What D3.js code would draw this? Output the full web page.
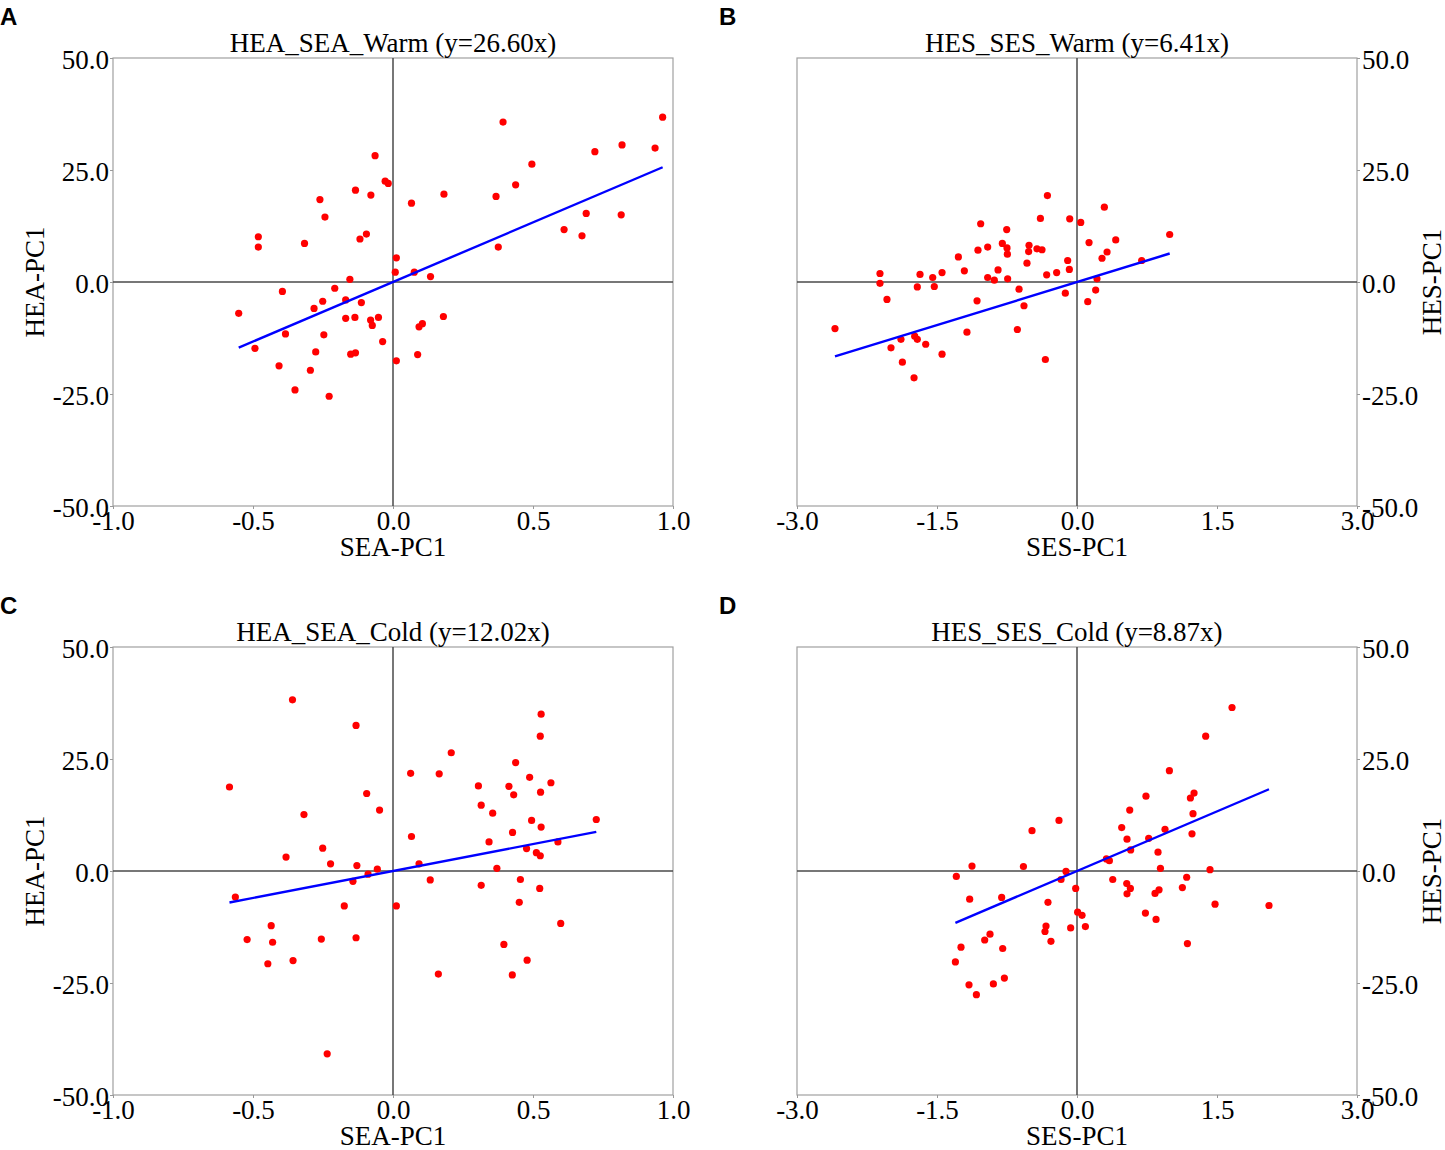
<!DOCTYPE html>
<html>
<head>
<meta charset="utf-8">
<script src="https://cdn.jsdelivr.net/npm/d3@7"></script>
<style>
	body { margin: 0; background: #fff; }
	.tick text { font-family: "Liberation Serif", "Times New Roman", serif; font-size: 27px; fill: #000; }
	.tick line { stroke: #999; }
</style>
</head>
<body>
<div id="chart-area"></div>
<script>
// Panel titles, slopes and axis labels
var titles = ["HEA_SEA_Warm (y=26.60x)", "HES_SES_Warm (y=6.41x)", "HEA_SEA_Cold (y=12.02x)", "HES_SES_Cold (y=8.87x)"];
var slopes = [26.60, 6.41, 12.02, 8.87];
var letters = ["A", "B", "C", "D"];
var xLabels = ["SEA-PC1", "SES-PC1", "SEA-PC1", "SES-PC1"];
var yLabels = ["HEA-PC1", "HES-PC1", "HEA-PC1", "HES-PC1"];

// Ticks
var seaTicks = [-1.0, -0.5, 0.0, 0.5, 1.0];
var sesTicks = [-3.0, -1.5, 0.0, 1.5, 3.0];
var pcTicks = [-50.0, -25.0, 0.0, 25.0, 50.0];

// A: HEA_SEA_Warm
var warmSeaX = [-0.064, -0.028, -0.017, -0.134, -0.079, -0.261, -0.243, -0.481, -0.481, -0.316,
	-0.095, -0.118, 0.012, 0.008, -0.154, -0.395, -0.208, -0.251, -0.282, -0.169,
	-0.113, -0.551, -0.169, -0.136, -0.080, -0.052, -0.074, -0.384, -0.247, -0.037,
	-0.493, -0.276, -0.151, -0.134, 0.012, -0.407, -0.295, -0.350, -0.228, 0.393,
	0.963, 0.721, 0.818, 0.936, 0.496, 0.438, 0.368, 0.066, 0.182, 0.690,
	0.815, 0.611, 0.675, 0.376, 0.076, 0.134, 0.180, 0.093, 0.105, 0.088];
var warmHeaY = [28.2, 22.5, 22.0, 20.5, 19.4, 18.4, 14.5, 10.1, 7.8, 8.6,
	10.7, 9.6, 5.4, 2.2, 0.6, -2.1, -1.4, -4.3, -5.9, -4.0,
	-4.6, -7.0, -8.1, -7.9, -8.5, -7.9, -9.7, -11.6, -11.8, -13.3,
	-14.8, -15.6, -16.1, -15.8, -17.6, -18.7, -19.7, -24.1, -25.5, 35.7,
	36.8, 29.1, 30.6, 29.9, 26.3, 21.7, 19.1, 17.6, 19.6, 15.3,
	15.0, 11.7, 10.3, 7.8, 2.2, 1.2, -7.7, -10.0, -9.3, -16.2];

// B: HES_SES_Warm
var warmSesX = [-0.317, -0.392, -0.078, 0.040, -1.032, -0.753, -0.800, -0.750, -0.746, -0.957,
	-1.061, -0.514, -0.518, -0.429, -0.375, 0.129, -1.271, -0.536, -0.100, -0.082,
	-0.846, -1.207, -1.446, -1.682, -2.111, -2.111, -1.546, -0.957, -0.886, -0.743,
	-0.325, -0.218, -1.711, -1.529, -0.621, -2.036, -1.071, -0.568, -0.125, 0.115,
	-2.593, -1.179, -0.639, -1.739, -1.711, -1.886, -1.621, -1.993, -1.446, -1.871,
	-0.339, -1.746, 0.293, 0.415, 0.322, 0.268, 0.993, 0.693, 0.214, 0.200];
var warmHesY = [19.3, 14.2, 14.1, 13.3, 13.0, 11.7, 8.6, 7.6, 6.2, 7.8,
	7.1, 8.2, 6.8, 7.4, 7.2, 8.8, 5.6, 4.2, 4.8, 2.8,
	2.7, 2.5, 2.1, 1.7, 1.9, -0.3, 1.0, 1.0, 0.4, 0.7,
	1.6, 2.1, -1.1, -1.0, -1.6, -3.9, -4.2, -5.3, -2.5, -4.4,
	-10.4, -11.2, -10.6, -12.1, -12.8, -12.8, -13.9, -14.7, -16.1, -17.9,
	-17.3, -21.4, 16.7, 9.4, 6.7, 5.3, 10.6, 4.8, 0.7, -1.8];

// C: HEA_SEA_Cold
var coldSeaX = [-0.359, -0.132, -0.584, 0.063, 0.165, -0.094, -0.048, -0.318, 0.066, -0.251,
	-0.382, -0.223, -0.129, -0.056, -0.089, 0.093, -0.143, 0.133, -0.563, -0.174,
	0.012, -0.435, -0.521, -0.430, -0.256, -0.132, -0.447, -0.357, 0.162, -0.235,
	0.529, 0.526, 0.208, 0.438, 0.488, 0.564, 0.305, 0.414, 0.431, 0.527,
	0.315, 0.356, 0.495, 0.726, 0.529, 0.427, 0.343, 0.589, 0.477, 0.512,
	0.526, 0.371, 0.315, 0.455, 0.524, 0.451, 0.599, 0.396, 0.479, 0.426];
var coldHeaY = [38.2, 32.5, 18.75, 21.8, 21.7, 17.3, 13.6, 12.6, 7.7, 5.1,
	3.1, 1.6, 1.2, 0.4, -0.7, 1.6, -2.3, -2.0, -5.8, -7.8,
	-7.8, -12.2, -15.3, -15.9, -15.2, -14.9, -20.7, -20.0, -23.0, -40.8,
	35.0, 30.1, 26.4, 24.2, 20.9, 19.7, 19.0, 18.9, 17.0, 17.6,
	14.7, 12.9, 11.3, 11.5, 9.8, 8.6, 6.5, 6.5, 5.0, 4.1,
	3.4, 0.6, -3.2, -1.9, -3.9, -7.0, -11.7, -16.4, -19.9, -23.2];

// D: HES_SES_Cold
var coldSesX = [-0.193, -0.482, -1.125, -0.574, -1.293, -0.118, -0.171, -0.014, -1.150, -0.807,
	-0.311, 0.007, 0.054, -0.332, -0.343, -0.068, 0.090, -0.932, -0.989, -0.279,
	-1.243, -0.796, -1.303, -0.778, -0.896, -1.157, -1.078, 0.315, 0.347, 0.383,
	1.661, 1.379, 0.990, 0.739, 1.254, 1.215, 0.565, 1.243, 0.479, 0.943,
	1.232, 0.536, 0.768, 0.575, 0.868, 0.894, 1.425, 1.175, 0.533, 0.572,
	0.536, 0.836, 0.879, 1.129, 1.479, 2.057, 0.733, 0.847, 1.183];
var coldHesY = [11.3, 9.0, 1.1, 1.0, -1.2, -0.1, -1.9, -3.9, -6.3, -5.9,
	-7.0, -9.2, -9.9, -12.3, -13.5, -12.7, -12.4, -14.1, -15.4, -15.7,
	-17.0, -17.3, -20.3, -23.9, -25.2, -25.4, -27.6, 2.7, 2.3, -1.9,
	36.5, 30.1, 22.4, 16.7, 17.4, 16.3, 13.6, 12.8, 9.7, 9.3,
	8.3, 7.1, 7.3, 4.7, 4.2, 0.6, 0.3, -1.4, -2.8, -3.9,
	-5.1, -5.0, -4.2, -3.7, -7.4, -7.7, -9.4, -10.8, -16.2];

var xsList = [warmSeaX, warmSesX, coldSeaX, coldSesX];
var ysList = [warmHeaY, warmHesY, coldHeaY, coldHesY];
var xTickList = [seaTicks, sesTicks, seaTicks, sesTicks];

// layout
var width = 1445, height = 1150;
var plotW = 560, plotH = 448;
var lefts = [113, 797, 113, 797];
var tops = [58, 58, 647, 647];
var serif = '"Liberation Serif", "Times New Roman", serif';

// plain hyphen minus, like the original figure
var fmt = function(d) { return d.toFixed(1); };

var svg = d3.select("#chart-area").append("svg")
	.attr("width", width)
	.attr("height", height);

var drawPanel = function(i) {
	var xs = xsList[i], ys = ysList[i];
	var rightAxis = (i % 2 == 1);
	var xt = xTickList[i];

	var g = svg.append("g")
		.attr("transform", "translate(" + lefts[i] + "," + tops[i] + ")");

	var xScale = d3.scaleLinear()
		.domain([xt[0], xt[xt.length - 1]])
		.range([0, plotW]);
	var yScale = d3.scaleLinear()
		.domain([-50, 50])
		.range([plotH, 0]);

	// frame
	g.append("rect")
		.attr("x", 0).attr("y", 0)
		.attr("width", plotW).attr("height", plotH)
		.attr("fill", "none")
		.attr("stroke", "#a0a0a0")
		.attr("stroke-width", 1.2);

	// x axis
	var xAxis = d3.axisBottom(xScale)
		.tickValues(xt)
		.tickSize(3)
		.tickFormat(fmt);
	var gx = g.append("g")
		.attr("transform", "translate(0," + plotH + ")")
		.call(xAxis);
	gx.select(".domain").remove();
	gx.selectAll(".tick text").attr("y", 5).attr("dy", "0.72em");

	// y axis
	var yAxis = (rightAxis ? d3.axisRight(yScale) : d3.axisLeft(yScale))
		.tickValues(pcTicks)
		.tickSize(3)
		.tickFormat(fmt);
	var gy = g.append("g")
		.attr("transform", "translate(" + (rightAxis ? plotW : 0) + ",0)")
		.call(yAxis);
	gy.select(".domain").remove();
	gy.selectAll(".tick text")
		.attr("x", rightAxis ? 5 : -4)
		.attr("dy", "0.37em");

	// zero lines
	g.append("line")
		.attr("x1", xScale(0)).attr("x2", xScale(0))
		.attr("y1", 0).attr("y2", plotH)
		.attr("stroke", "#4a4a4a").attr("stroke-width", 1.5);
	g.append("line")
		.attr("x1", 0).attr("x2", plotW)
		.attr("y1", yScale(0)).attr("y2", yScale(0))
		.attr("stroke", "#4a4a4a").attr("stroke-width", 1.5);

	// points
	g.selectAll("circle")
		.data(d3.range(xs.length))
		.enter()
		.append("circle")
		.attr("cx", function(k) { return xScale(xs[k]); })
		.attr("cy", function(k) { return yScale(ys[k]); })
		.attr("r", 3.6)
		.attr("fill", "#ff0000");

	// regression line y = slope * x over the data range
	var ext = d3.extent(xs);
	g.append("line")
		.attr("x1", xScale(ext[0])).attr("y1", yScale(slopes[i] * ext[0]))
		.attr("x2", xScale(ext[1])).attr("y2", yScale(slopes[i] * ext[1]))
		.attr("stroke", "#0000ff")
		.attr("stroke-width", 2.4);

	// title
	g.append("text")
		.attr("x", plotW / 2)
		.attr("y", -6)
		.attr("text-anchor", "middle")
		.style("font-family", serif)
		.style("font-size", "27px")
		.text(titles[i]);

	// x label
	g.append("text")
		.attr("x", plotW / 2)
		.attr("y", plotH + 50)
		.attr("text-anchor", "middle")
		.style("font-family", serif)
		.style("font-size", "27px")
		.text(xLabels[i]);

	// y label
	var ly = rightAxis ? plotW + 84 : -69;
	g.append("text")
		.attr("transform", "translate(" + ly + "," + (plotH / 2) + ") rotate(-90)")
		.attr("text-anchor", "middle")
		.style("font-family", serif)
		.style("font-size", "27px")
		.text(yLabels[i]);

	// panel letter
	svg.append("text")
		.attr("x", rightAxis ? 719 : 0)
		.attr("y", tops[i] - 33)
		.style("font-family", '"Liberation Sans", Arial, sans-serif')
		.style("font-weight", "bold")
		.style("font-size", "24px")
		.text(letters[i]);
};

for (var i = 0; i < 4; i++) {
	drawPanel(i);
}
</script>
</body>
</html>
